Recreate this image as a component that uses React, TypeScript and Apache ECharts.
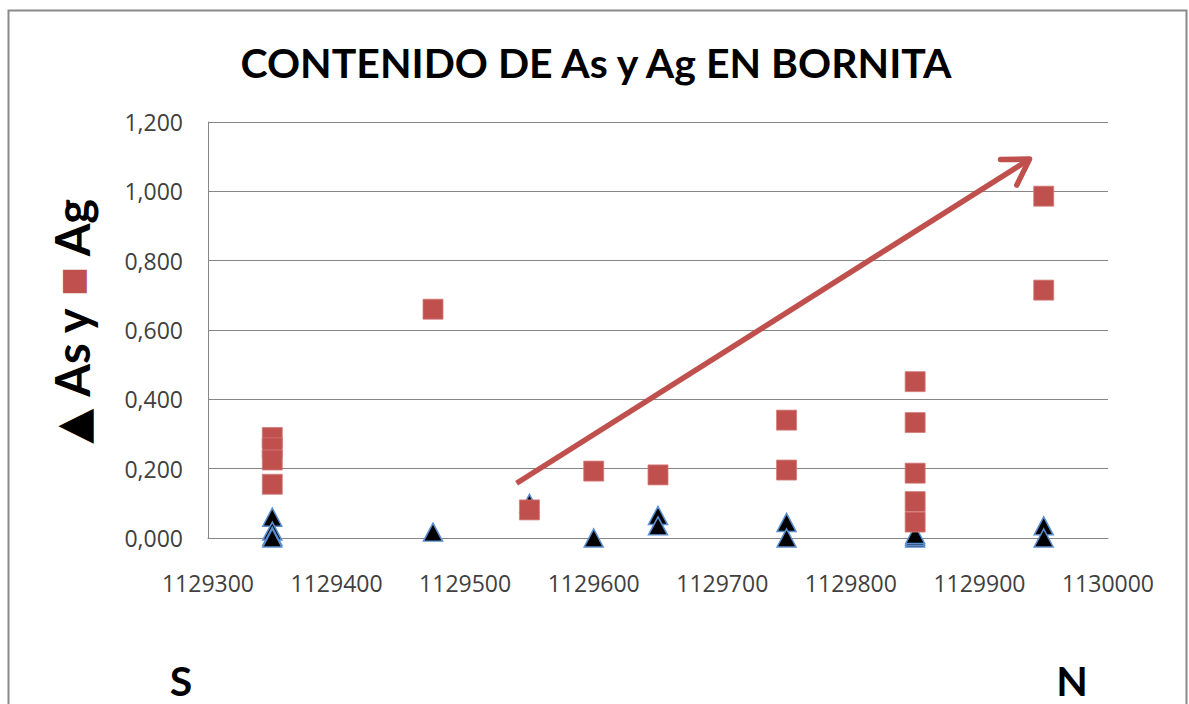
import React, { useEffect, useRef } from "react";
import * as echarts from "echarts";

const TITLE = "CONTENIDO DE As y Ag EN BORNITA";
const X_MIN = 1129300;
const X_MAX = 1130000;
const X_STEP = 100;
const Y_MIN = 0;
const Y_MAX = 1.2;
const Y_STEP = 0.2;

// As (triangles): [position, content]
const AS_X = [1129350, 1129350, 1129350, 1129350, 1129475, 1129550, 1129600, 1129650, 1129650, 1129750, 1129750, 1129850, 1129850, 1129850, 1129950, 1129950];
const AS_Y = [0.06, 0.02, 0.005, 0.0, 0.017, 0.1, 0.0, 0.065, 0.035, 0.045, 0.0, 0.0, 0.005, 0.01, 0.035, 0.0];

// Ag (squares)
const AG_X = [1129350, 1129350, 1129350, 1129350, 1129475, 1129550, 1129600, 1129650, 1129750, 1129750, 1129850, 1129850, 1129850, 1129850, 1129850, 1129950, 1129950];
const AG_Y = [0.29, 0.26, 0.225, 0.155, 0.66, 0.081, 0.193, 0.182, 0.34, 0.196, 0.451, 0.333, 0.187, 0.105, 0.046, 0.986, 0.715];

// Trend arrow (data coordinates)
const ARROW_START = [1129540, 0.158];
const ARROW_END = [1129939, 1.093];

const RED = "#c0504d";

export default function App() {
  const ref = useRef<HTMLDivElement>(null);
  useEffect(() => {
    if (!ref.current) return;
    const chart = echarts.init(ref.current, null, { renderer: "svg" });
    const fmt = (v: number) => v.toFixed(3).replace(".", ",");
    chart.setOption({
      animation: false,
      backgroundColor: "#ffffff",
      grid: { left: 208, top: 122, width: 900, height: 416, containLabel: false },
      xAxis: {
        type: "value",
        min: X_MIN,
        max: X_MAX,
        interval: X_STEP,
        axisLine: { show: true, lineStyle: { color: "#868686", width: 1 } },
        axisTick: { show: false },
        splitLine: { show: false },
        axisLabel: { margin: 33, fontSize: 23, color: "#404040", fontFamily: "Open Sans", formatter: (v: number) => String(v) },
      },
      yAxis: {
        type: "value",
        min: Y_MIN,
        max: Y_MAX,
        interval: Y_STEP,
        axisLine: { show: true, lineStyle: { color: "#868686", width: 1 } },
        axisTick: { show: false },
        splitLine: { show: true, lineStyle: { color: "#868686", width: 1 } },
        axisLabel: { margin: 25, fontSize: 23, color: "#404040", fontFamily: "Open Sans", formatter: fmt },
      },
      graphic: [
        { type: "rect", left: 6, top: 8, shape: { width: 1178, height: 720 }, style: { fill: "none", stroke: "#8a8a8a", lineWidth: 2 }, silent: true },
        {
          type: "text",
          x: 596,
          y: 62,
          style: { text: TITLE, font: "bold 41px Lato", fill: "#000", align: "center", verticalAlign: "middle" },
        },
        {
          type: "text",
          x: 72,
          y: 321,
          rotation: Math.PI / 2,
          style: {
            text: "{t|▲} As y {s|■} Ag",
            align: "center",
            verticalAlign: "middle",
            font: "bold 47px Lato",
            fill: "#000",
            rich: {
              t: { fontSize: 46, fill: "#000", fontFamily: "DejaVu Sans" },
              s: { fontSize: 31, fill: RED, fontFamily: "DejaVu Sans" },
            },
          },
        },
        { type: "text", x: 181, y: 680, style: { text: "S", font: "bold 41px Lato", fill: "#000", align: "center", verticalAlign: "middle" } },
        { type: "text", x: 1072, y: 680, style: { text: "N", font: "bold 41px Lato", fill: "#000", align: "center", verticalAlign: "middle" } },
      ],
      series: [
        {
          type: "custom",
          coordinateSystem: "cartesian2d",
          z: 1,
          data: [[ARROW_START[0], ARROW_START[1], ARROW_END[0], ARROW_END[1]]],
          encode: { x: [0, 2], y: [1, 3] },
          renderItem: (params: any, api: any) => {
            const p1 = api.coord([api.value(0), api.value(1)]);
            const p2 = api.coord([api.value(2), api.value(3)]);
            const ang = Math.atan2(p1[1] - p2[1], p1[0] - p2[0]);
            const len = 29;
            const spread = 0.55;
            const a1 = [p2[0] + len * Math.cos(ang + spread), p2[1] + len * Math.sin(ang + spread)];
            const a2 = [p2[0] + len * Math.cos(ang - spread), p2[1] + len * Math.sin(ang - spread)];
            const style = { stroke: RED, lineWidth: 5.5, lineCap: "round", lineJoin: "round", fill: "none" };
            return {
              type: "group",
              children: [
                { type: "line", shape: { x1: p1[0], y1: p1[1], x2: p2[0] - 2 * Math.cos(ang + Math.PI), y2: p2[1] - 2 * Math.sin(ang + Math.PI) }, style: { ...style, lineCap: "butt" } },
                { type: "polyline", shape: { points: [a1, p2, a2] }, style },
              ],
            };
          },
        },
        {
          name: "As",
          type: "scatter",
          symbol: "triangle",
          symbolSize: [19, 18],
          z: 2,
          itemStyle: { color: "#000000", borderColor: "#5b8fd0", borderWidth: 1.5, opacity: 1 },
          data: AS_X.map((x, i) => [x, AS_Y[i]]),
        },
        {
          name: "Ag",
          type: "scatter",
          symbol: "rect",
          symbolSize: 20,
          z: 3,
          itemStyle: { color: RED, borderColor: "#d27c7a", borderWidth: 0.8, opacity: 1 },
          data: AG_X.map((x, i) => [x, AG_Y[i]]),
        },
      ],
    });
    return () => chart.dispose();
  }, []);
  return (
    <div style={{ position: "absolute", left: 0, top: 0, width: 1189, height: 704, background: "#fff" }}>
      <div ref={ref} style={{ width: 1189, height: 704 }} />
    </div>
  );
}
